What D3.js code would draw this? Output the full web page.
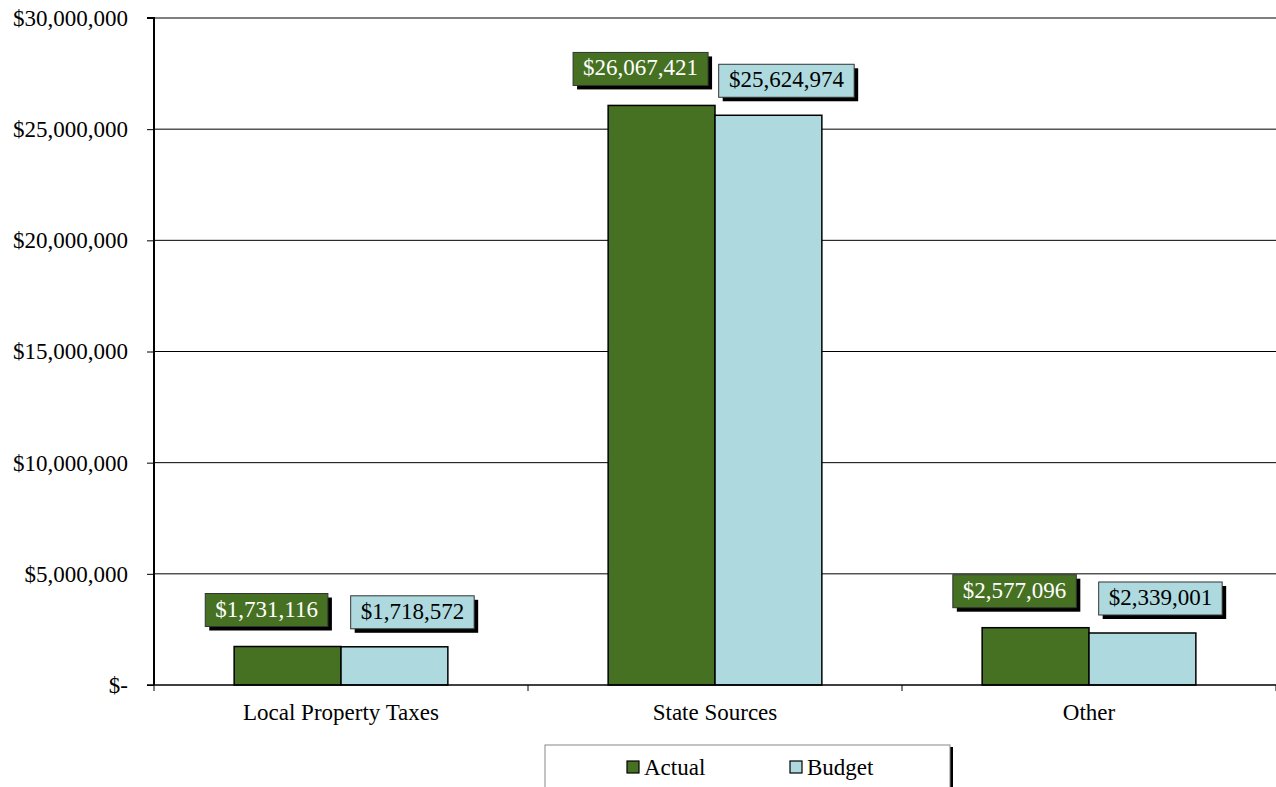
<!DOCTYPE html>
<html><head><meta charset="utf-8">
<script src="https://cdn.jsdelivr.net/npm/d3@7"></script>
<style>body{margin:0;background:#fff}svg{display:block}</style>
</head><body>
<svg id="c" width="1276" height="787"></svg>
<script>
const categories = ["Local Property Taxes", "State Sources", "Other"];
const seriesNames = ["Actual", "Budget"];
const actual = [1731116, 26067421, 2577096];
const budget = [1718572, 25624974, 2339001];
const yTicks = [0, 5000000, 10000000, 15000000, 20000000, 25000000, 30000000];
const colors = ["#467123", "#AEDADF"];

const FF = '"Liberation Serif"';
const FS = 23;
const svg = d3.select("#c");
const m = {l:154, r:1276, t:18, b:685};
const x = d3.scaleBand().domain(categories).range([m.l, m.r]).paddingInner(0).paddingOuter(0);
const xs = d3.scaleBand().domain(seriesNames).range([0, x.bandwidth()]).paddingInner(0).paddingOuter(0.75);
const y = d3.scaleLinear().domain([0, 30000000]).range([m.b, m.t]);
const fmt = v => v === 0 ? "$-" : "$" + d3.format(",")(v);

// gridlines
svg.append("g").selectAll("line").data(yTicks.filter(d=>d>0)).join("line")
  .attr("x1", m.l).attr("x2", m.r).attr("y1", d=>y(d)).attr("y2", d=>y(d))
  .attr("stroke", "#000").attr("stroke-width", 1);

// y axis
const ya = svg.append("g").attr("transform", `translate(${m.l},0)`)
  .call(d3.axisLeft(y).tickValues(yTicks).tickFormat(fmt).tickSize(7).tickPadding(19));
ya.select(".domain").attr("stroke-width", 2).attr("d", `M-7,${m.t}H0V${m.b}`);
ya.selectAll("text").style("font-family", FF).style("font-size", FS + "px").attr("fill", "#000");
ya.selectAll("line").attr("stroke", "#000");

// bars
const data = categories.map((c,i)=>({c, vals:[actual[i], budget[i]]}));
const g = svg.append("g");
data.forEach(d => {
  d.vals.forEach((v,j) => {
    g.append("rect").attr("x", x(d.c)+xs(seriesNames[j])).attr("y", y(v))
      .attr("width", xs.bandwidth()).attr("height", y(0)-y(v))
      .attr("fill", colors[j]).attr("stroke", "#000").attr("stroke-width", 1.5);
  });
});

// x axis
const xa = svg.append("g").attr("transform", `translate(0,${m.b})`);
xa.append("line").attr("x1", m.l-7).attr("x2", m.r).attr("stroke", "#000").attr("stroke-width", 1.5);
xa.selectAll(".tk").data([m.l, x(categories[1]), x(categories[2]), m.r]).join("line")
  .attr("x1", d=>d).attr("x2", d=>d).attr("y1", 0).attr("y2", 6).attr("stroke", "#000");
xa.selectAll("text").data(categories).join("text")
  .attr("x", d=>x(d)+x.bandwidth()/2).attr("y", 35).attr("text-anchor", "middle")
  .style("font-family", FF).style("font-size", FS + "px").text(d=>d);

// data labels
const lblDx = [-21, 18];
const lblDy = [-20, -18];
const lg = svg.append("g");
data.forEach(d => {
  d.vals.forEach((v,j) => {
    const cx = x(d.c)+xs(seriesNames[j])+xs.bandwidth()/2 + lblDx[j];
    const bottom = y(v) + lblDy[j];
    const t = lg.append("text").attr("x", cx).attr("y", bottom-10).attr("text-anchor","middle")
      .style("font-family", FF).style("font-size", FS + "px")
      .attr("fill", j===0?"#fff":"#000").text(fmt(v));
    const bb = t.node().getBBox();
    const w = bb.width + 20, h = 33;
    lg.insert("rect", "text").attr("x", cx-w/2+4).attr("y", bottom-h+4).attr("width", w).attr("height", h).attr("fill", "#000");
    lg.insert("rect", "text").attr("x", cx-w/2).attr("y", bottom-h).attr("width", w).attr("height", h)
      .attr("fill", colors[j]).attr("stroke", "#333").attr("stroke-width", 1);
  });
});

// legend
const leg = svg.append("g");
leg.append("rect").attr("x", 548).attr("y", 747).attr("width", 405).attr("height", 50).attr("fill", "#000");
leg.append("rect").attr("x", 545).attr("y", 745).attr("width", 405).attr("height", 50).attr("fill", "#fff").attr("stroke", "#888");
const legX = [627, 790];
seriesNames.forEach((s,j) => {
  leg.append("rect").attr("x", legX[j]).attr("y", 761).attr("width", 12).attr("height", 12)
    .attr("fill", colors[j]).attr("stroke", "#000").attr("stroke-width", 1.2);
  leg.append("text").attr("x", legX[j]+17).attr("y", 775)
    .style("font-family", FF).style("font-size", FS + "px").text(s);
});
</script>
</body></html>
